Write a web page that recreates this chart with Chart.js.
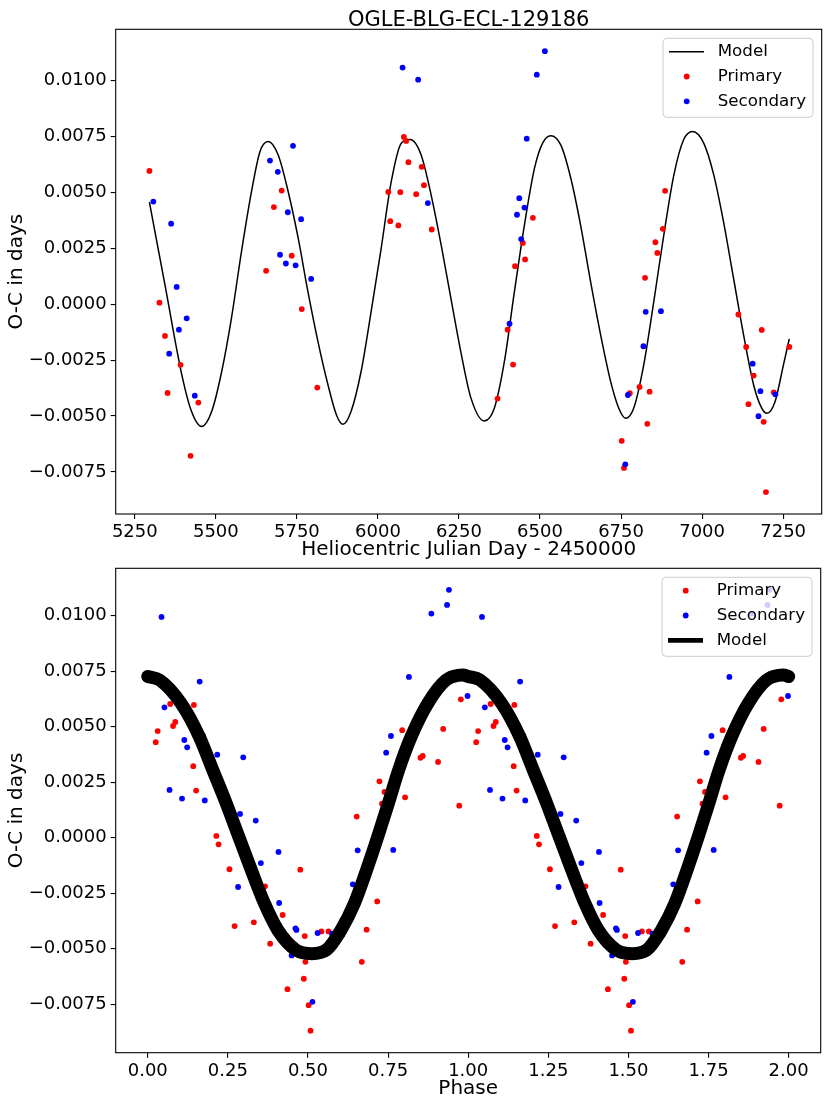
<!DOCTYPE html>
<html>
<head>
<meta charset="utf-8">
<title>OGLE-BLG-ECL-129186 O-C</title>
<script src="https://cdn.jsdelivr.net/npm/chart.js@4.4.0/dist/chart.umd.min.js"></script>
<style>
html, body { margin: 0; padding: 0; background: #fff; }
#wrap { position: relative; width: 830px; height: 1107px; }
canvas { position: absolute; left: 0; }
#top { top: 0; }
#bottom { top: 560px; }
</style>
</head>
<body>
<div id="wrap">
<canvas id="top" width="830" height="560"></canvas>
<canvas id="bottom" width="830" height="547"></canvas>
</div>
<script>
"use strict";

const FONT = "'DejaVu Sans', sans-serif";

// --- top panel: O-C against HJD - 2450000 ---
const primaryHJD = [5295, 5326, 5343, 5351, 5391, 5422, 5446, 5655, 5679, 5703, 5734, 5765, 5813,
	6032, 6038, 6063, 6069, 6080, 6087, 6094, 6118, 6135, 6142, 6166,
	6369, 6400, 6417, 6423, 6447, 6454, 6478, 6752, 6759, 6777, 6807, 6824, 6831, 6838, 6856, 6862, 6879, 6886,
	7112, 7136, 7143, 7159, 7184, 7190, 7197, 7221, 7269];
const primaryOC = [0.00596, 0.00007, -0.00142, -0.00397, -0.00271, -0.00678, -0.0044, 0.00149, 0.00434, 0.00508, 0.00217, -0.00022, -0.00373,
	0.00502, 0.00371, 0.00352, 0.00501, 0.00748, 0.0073, 0.00635, 0.00492, 0.00614, 0.00532, 0.00334,
	-0.00422, -0.00114, -0.0027, 0.0017, 0.00274, 0.002, 0.00386, -0.00611, -0.00732, -0.00398, -0.0037, 0.00118, -0.00535, -0.00391, 0.00277, 0.00229, 0.00337, 0.00507,
	-0.00046, -0.00191, -0.00447, -0.00319, -0.00115, -0.00526, -0.0084, -0.00394, -0.00191];

const secondaryHJD = [5307, 5356, 5362, 5379, 5386, 5410, 5435, 5667, 5691, 5698, 5716, 5722, 5738, 5746, 5763, 5794,
	6076, 6124, 6154, 6406, 6429, 6436, 6442, 6452, 6459, 6490, 6515,
	6763, 6771, 6819, 6826, 6873, 7156, 7174, 7180, 7226];
const secondaryOC = [0.00459, -0.00221, 0.0036, 0.00077, -0.00114, -0.00063, -0.00409, 0.00642, 0.00592, 0.00221, 0.00182, 0.00411, 0.00708, 0.00174, 0.0038, 0.00113,
	0.01058, 0.01004, 0.00452, -0.00087, 0.004, 0.00474, 0.00291, 0.00432, 0.0074, 0.01026, 0.01131,
	-0.00716, -0.00406, -0.00188, -0.00034, -0.00031, -0.00266, -0.00501, -0.00389, -0.00403];

const modelHJD = [5295, 5343, 5395, 5425, 5456, 5487, 5518, 5548, 5579, 5610, 5636, 5661, 5692, 5723, 5754, 5784,
	5815, 5846, 5872, 5892, 5917, 5948, 5979, 6010, 6041, 6072, 6100, 6133, 6164, 6195, 6225, 6256,
	6287, 6328, 6359, 6390, 6421, 6452, 6483, 6508, 6533, 6564, 6595, 6625, 6656, 6687, 6718, 6743,
	6764, 6789, 6820, 6851, 6882, 6913, 6943, 6971, 7005, 7036, 7066, 7097, 7128, 7159, 7184, 7200,
	7225, 7251, 7269];
const modelOC = [0.00456, 0.00086, -0.00316, -0.0048, -0.00547, -0.0048, -0.00301, -0.00063, 0.00235, 0.00504, 0.00682, 0.00727, 0.00668, 0.00504, 0.00295, 0.00056,
	-0.00167, -0.00361, -0.00495, -0.00537, -0.0048, -0.00301, -0.00033, 0.0025, 0.00548, 0.0072, 0.00736, 0.00668, 0.00489, 0.00265, 0.00027, -0.00215,
	-0.0042, -0.00522, -0.00465, -0.00257, 0.00056, 0.00355, 0.00608, 0.0072, 0.00753, 0.00712, 0.00563, 0.00355, 0.00101, -0.00137, -0.00346, -0.00465,
	-0.0051, -0.00465, -0.00271, 0.00012, 0.0031, 0.00578, 0.00735, 0.00772, 0.0072, 0.00578, 0.00369, 0.00116, -0.00137, -0.00361, -0.00465, -0.00488,
	-0.00436, -0.00271, -0.00155];

// --- bottom panel: folded on the orbital phase (one cycle, shown twice) ---
const primaryPhase = [0.025, 0.031, 0.070, 0.079, 0.086, 0.142, 0.144, 0.151, 0.214, 0.221, 0.255, 0.271, 0.312, 0.331,
	0.366, 0.382, 0.421, 0.436, 0.476, 0.487, 0.490, 0.492, 0.502, 0.508, 0.542, 0.564, 0.607, 0.652, 0.668,
	0.677, 0.683, 0.716, 0.723, 0.731, 0.739, 0.778, 0.794, 0.803, 0.834, 0.851, 0.858, 0.906, 0.922, 0.944,
	0.972, 0.977];
const primaryPhaseOC = [0.0043, 0.0048, 0.00602, 0.00503, 0.00521, 0.00322, 0.00598, 0.00212, 0.00008, -0.0003, -0.00142, -0.00398, -0.00073, -0.00381,
	-0.00219, -0.00477, -0.00348, -0.00682, -0.00144, -0.00635, -0.00443, -0.00559, -0.00754, -0.00869, -0.00422, -0.00422, -0.00438, 0.00095, -0.00559,
	-0.00131, -0.00414, -0.00287, 0.00254, 0.00153, 0.00206, 0.00314, 0.00484, 0.00182, 0.00494, 0.0036, 0.00368, 0.00341, 0.0049, 0.00739,
	0.00144, 0.00623];

const secondaryPhase = [0.043, 0.052, 0.068, 0.107, 0.114, 0.123, 0.162, 0.172, 0.178, 0.217, 0.282, 0.288, 0.298, 0.337,
	0.353, 0.408, 0.410, 0.449, 0.461, 0.464, 0.514, 0.530, 0.575, 0.640, 0.655, 0.688, 0.744, 0.759, 0.766,
	0.775, 0.799, 0.815, 0.885, 0.934, 0.940, 0.998];
const secondaryPhaseOC = [0.00994, 0.00587, 0.00215, 0.00176, 0.0044, 0.00407, 0.00703, 0.00459, 0.00168, 0.00374, -0.00222, 0.00107, 0.00362, 0.00077,
	-0.00114, -0.00064, -0.00294, -0.0053, -0.00408, -0.00415, -0.00739, -0.00429, -0.00432, -0.0021, -0.00057, -0.00104, 0.00383, 0.00458, -0.00055,
	0.00273, 0.00414, 0.00724, 0.01009, 0.01048, 0.01116, 0.00638];

const modelPhase = [0.000, 0.037, 0.104, 0.161, 0.203, 0.245, 0.284, 0.323, 0.364, 0.406, 0.463, 0.512,
	0.557, 0.603, 0.645, 0.683, 0.718, 0.751, 0.783, 0.822, 0.874, 0.931, 0.983, 1.000];
const modelPhaseOC = [0.00726, 0.0071, 0.00605, 0.00455, 0.00305, 0.00155, 0.00005, -0.00145, -0.00295, -0.00416, -0.00506, -0.00522,
	-0.00506, -0.00416, -0.00295, -0.00145, 0.00005, 0.00155, 0.00305, 0.00455, 0.00605, 0.0071, 0.00733, 0.00726];

// tick labels
const hjdTicks = [5250, 5500, 5750, 6000, 6250, 6500, 6750, 7000, 7250];
const phaseTicks = [0, 0.25, 0.5, 0.75, 1, 1.25, 1.5, 1.75, 2];
const ocTicks = [-0.0075, -0.005, -0.0025, 0, 0.0025, 0.005, 0.0075, 0.01];

function pts(xs, ys) {
	return xs.map((x, i) => ({x: x, y: ys[i]}));
}
// the folded data is plotted for phase 0-1 and again for 1-2
function twoCycles(xs, ys) {
	return pts(xs, ys).concat(pts(xs.map(x => x + 1), ys));
}
function twoCyclesLine(xs, ys) {
	return pts(xs, ys).concat(pts(xs.slice(1).map(x => x + 1), ys.slice(1)));
}
function fmtOC(v) {
	return v.toFixed(4).replace("-", "\u2212");
}

// axes box on all four sides, like matplotlib spines
const framePlugin = {
	id: "frame",
	afterDatasetsDraw(chart) {
		const a = chart.chartArea, ctx = chart.ctx;
		ctx.save();
		ctx.strokeStyle = "#000";
		ctx.lineWidth = 1.1;
		ctx.strokeRect(a.left, a.top, a.right - a.left, a.bottom - a.top);
		ctx.restore();
	}
};

// legend inside the upper right corner of the axes
const boxLegend = {
	id: "boxLegend",
	afterDraw(chart, args, opts) {
		if (!opts.items) return;
		const a = chart.chartArea, ctx = chart.ctx;
		const w = 150, h = 79;
		const x0 = a.right - 8.7 - w, y0 = a.top + 9;
		ctx.save();
		ctx.beginPath();
		ctx.roundRect(x0, y0, w, h, 4);
		ctx.fillStyle = "rgba(255,255,255,0.8)";
		ctx.fill();
		ctx.strokeStyle = "#cccccc";
		ctx.lineWidth = 1;
		ctx.stroke();
		ctx.font = "16.7px " + FONT;
		ctx.textBaseline = "middle";
		opts.items.forEach((it, i) => {
			const y = y0 + 13.4 + i * 24.8;
			if (it.kind === "line") {
				ctx.beginPath();
				ctx.moveTo(x0 + 6, y);
				ctx.lineTo(x0 + 41, y);
				ctx.strokeStyle = it.color;
				ctx.lineWidth = it.width;
				ctx.stroke();
			} else {
				ctx.beginPath();
				ctx.arc(x0 + 23.7, y, 2.9, 0, Math.PI * 2);
				ctx.fillStyle = it.color;
				ctx.fill();
			}
			ctx.fillStyle = "#000";
			ctx.fillText(it.label, x0 + 54.7, y);
		});
		ctx.restore();
	}
};

const titlePlugin = {
	id: "plotTitle",
	afterDraw(chart, args, opts) {
		if (!opts.text) return;
		const a = chart.chartArea, ctx = chart.ctx;
		ctx.save();
		ctx.font = "21px " + FONT;
		ctx.fillStyle = "#000";
		ctx.textAlign = "center";
		ctx.textBaseline = "alphabetic";
		ctx.fillText(opts.text, (a.left + a.right) / 2, 26);
		ctx.restore();
	}
};

function tickGrid() {
	return {drawOnChartArea: false, drawTicks: true, tickLength: 5, color: "#000", lineWidth: 1.1};
}

function ocAxis(min, max) {
	return {
		type: "linear",
		min: min,
		max: max,
		afterBuildTicks: s => { s.ticks = ocTicks.map(v => ({value: v})); },
		afterFit: s => { s.width = 115.7; s.paddingTop = 0; s.paddingBottom = 0; },
		ticks: {callback: v => fmtOC(v), font: {family: FONT, size: 18}, color: "#000", padding: 4},
		grid: tickGrid(),
		border: {display: false},
		title: {display: true, text: "O-C in days", font: {family: FONT, size: 20, lineHeight: 1.2}, color: "#000", padding: {top: 5, bottom: 0}}
	};
}

function xAxis(min, max, tickList, fmt, label, height, padBottom) {
	return {
		type: "linear",
		min: min,
		max: max,
		afterBuildTicks: s => { s.ticks = tickList.map(v => ({value: v})); },
		afterFit: s => { s.height = height; s.paddingLeft = 0; s.paddingRight = 0; },
		ticks: {callback: fmt, font: {family: FONT, size: 18}, color: "#000", padding: 3, maxRotation: 0, autoSkip: false},
		grid: tickGrid(),
		border: {display: false},
		title: {display: true, text: label, font: {family: FONT, size: 20, lineHeight: 1.0}, color: "#000", padding: {top: 0, bottom: padBottom}}
	};
}

function dots(label, data, color, order) {
	return {label: label, data: data, backgroundColor: color, borderWidth: 0, pointRadius: 2.9, pointHoverRadius: 2.9, order: order};
}

const chartTop = new Chart(document.getElementById("top"), {
	type: "scatter",
	data: {
		datasets: [
			{
				label: "Model",
				data: pts(modelHJD, modelOC),
				showLine: true,
				borderColor: "#000",
				borderWidth: 1.5,
				pointRadius: 0,
				cubicInterpolationMode: "monotone",
				order: 2
			},
			dots("Primary", pts(primaryHJD, primaryOC), "#ff0000", 1),
			dots("Secondary", pts(secondaryHJD, secondaryOC), "#0000ff", 0)
		]
	},
	options: {
		responsive: false,
		animation: false,
		layout: {padding: {left: 0, right: 8.3, top: 29.3, bottom: 0}},
		scales: {
			x: xAxis(5191, 7369, hjdTicks, v => String(v), "Heliocentric Julian Day - 2450000", 46, 0),
			y: ocAxis(-0.00938, 0.01229)
		},
		plugins: {
			legend: {display: false},
			tooltip: {enabled: false},
			plotTitle: {text: "OGLE-BLG-ECL-129186"},
			boxLegend: {items: [
				{label: "Model", kind: "line", color: "#000", width: 1.5},
				{label: "Primary", kind: "dot", color: "#ff0000"},
				{label: "Secondary", kind: "dot", color: "#0000ff"}
			]}
		}
	},
	plugins: [framePlugin, boxLegend, titlePlugin]
});

const chartBottom = new Chart(document.getElementById("bottom"), {
	type: "scatter",
	data: {
		datasets: [
			dots("Primary", twoCycles(primaryPhase, primaryPhaseOC), "#ff0000", 2),
			dots("Secondary", twoCycles(secondaryPhase, secondaryPhaseOC), "#0000ff", 1),
			{
				label: "Model",
				data: twoCyclesLine(modelPhase, modelPhaseOC),
				showLine: true,
				borderColor: "#000",
				borderWidth: 13,
				borderCapStyle: "round",
				borderJoinStyle: "round",
				pointRadius: 0,
				cubicInterpolationMode: "monotone",
				order: 0
			}
		]
	},
	options: {
		responsive: false,
		animation: false,
		layout: {padding: {left: 0, right: 9.3, top: 8.3, bottom: 0}},
		scales: {
			x: xAxis(-0.1, 2.1, phaseTicks, v => v.toFixed(2), "Phase", 54.3, 8),
			y: ocAxis(-0.00968, 0.01213)
		},
		plugins: {
			legend: {display: false},
			tooltip: {enabled: false},
			boxLegend: {items: [
				{label: "Primary", kind: "dot", color: "#ff0000"},
				{label: "Secondary", kind: "dot", color: "#0000ff"},
				{label: "Model", kind: "line", color: "#000", width: 4.7}
			]}
		}
	},
	plugins: [framePlugin, boxLegend]
});
</script>
</body>
</html>
